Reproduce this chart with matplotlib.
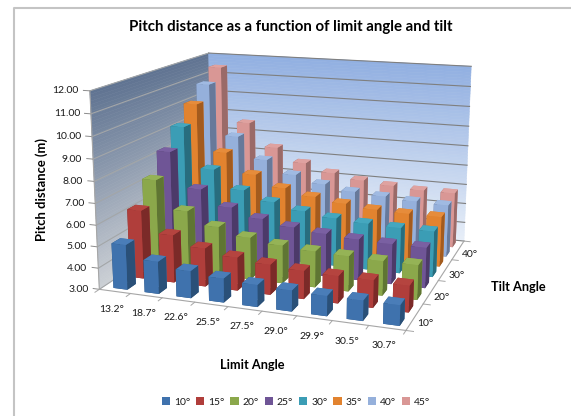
import numpy as np
import matplotlib
matplotlib.use('Agg')
import matplotlib.pyplot as plt
from matplotlib.lines import Line2D
from matplotlib.patches import Patch
from mpl_toolkits.mplot3d import proj3d
from mpl_toolkits.mplot3d.art3d import Poly3DCollection

plt.rcParams['font.family'] = ['Lato', 'DejaVu Sans']

limit_angles = ['13.2°', '18.7°', '22.6°', '25.5°', '27.5°', '29.0°', '29.9°', '30.5°', '30.7°']
tilt_names = ['10°', '15°', '20°', '25°', '30°', '35°', '40°', '45°']

tilt_10 = [5.1, 4.5, 4.25, 4.1, 4.0, 3.95, 3.9, 3.9, 3.9]
tilt_15 = [6.25, 5.25, 4.8, 4.55, 4.4, 4.3, 4.25, 4.25, 4.2]
tilt_20 = [7.3, 5.95, 5.35, 5.0, 4.8, 4.7, 4.65, 4.6, 4.6]
tilt_25 = [8.3, 6.6, 5.85, 5.45, 5.2, 5.05, 4.95, 4.9, 4.9]
tilt_30 = [9.2, 7.2, 6.3, 5.85, 5.55, 5.35, 5.25, 5.2, 5.2]
tilt_35 = [10.05, 7.7, 6.7, 6.15, 5.85, 5.65, 5.5, 5.45, 5.45]
tilt_40 = [10.8, 8.2, 7.1, 6.45, 6.1, 5.85, 5.75, 5.65, 5.6]
tilt_45 = [11.45, 8.6, 7.4, 6.7, 6.3, 6.05, 5.9, 5.8, 5.8]
series = [tilt_10, tilt_15, tilt_20, tilt_25, tilt_30, tilt_35, tilt_40, tilt_45]

z_ticks = [3, 4, 5, 6, 7, 8, 9, 10, 11, 12]

# front, top, side colours for each series
front = ['#3f72ad', '#b03e3b', '#8ba84b', '#6f5596', '#3b9db5', '#e2832f', '#95b0db', '#d99795']
top = ['#4a7db8', '#b5443f', '#95b356', '#7a60a2', '#45a7bf', '#e68c3b', '#a0bae2', '#dfa2a0']
side = ['#2a5078', '#7b2a28', '#5f7533', '#4c3a69', '#286d7e', '#a35b1e', '#67799a', '#9a6a68']

W, H = 571, 416
fig = plt.figure(figsize=(W/100, H/100), dpi=100)
S = 430.5
ax = fig.add_axes([72.7/W, 22.2/H, S/W, S/H], projection='3d')
ax.view_init(elev=14.29, azim=-70.41)
ax.set_proj_type('persp', focal_length=0.4568)
ax.set_box_aspect((1, 0.8835, 0.6398))
ax.computed_zorder = False
ax.set_axis_off()
ax.set_xticks([])
ax.set_yticks([])
ax.set_zticks([])


def wall(xa, ya, xb, yb, col_top, col_bot):
    zs = np.linspace(3, 12, 61)
    c0, c1 = np.array(col_bot), np.array(col_top)
    polys, cols = [], []
    for k in range(60):
        polys.append([(xa, ya, zs[k]), (xb, yb, zs[k]), (xb, yb, zs[k+1]), (xa, ya, zs[k+1])])
        cols.append((c0 + (c1-c0)*(k+0.5)/60)/255)
    ax.add_collection3d(Poly3DCollection(polys, facecolors=cols, edgecolors=cols, linewidths=0.4, zorder=1))


wall(0, 0, 0, 8, (95, 115, 145), (205, 209, 214))
wall(0, 8, 9, 8, (145, 175, 225), (232, 239, 248))

for z in z_ticks:
    ax.plot([0, 0], [0, 8], [z, z], color='#a3a6a8', lw=0.8, zorder=2)
    ax.plot([0, 9], [8, 8], [z, z], color='#7f7f7f', lw=0.8, zorder=2)
    ax.plot([-0.2, 0], [0, 0], [z, z], color='#8c8c8c', lw=0.7, zorder=2)

# floor edges
ax.plot([0, 9], [0, 0], [3, 3], color='#a6a6a6', lw=0.8, zorder=2)
ax.plot([9, 9], [0, 8], [3, 3], color='#a6a6a6', lw=0.8, zorder=2)
ax.plot([0, 0], [0, 0], [3, 12], color='#a6a6a6', lw=0.8, zorder=2)
for i in range(10):
    ax.plot([i, i], [-0.25, 0], [3, 3], color='#a6a6a6', lw=0.7, zorder=2)
for j in range(0, 9, 2):
    ax.plot([9, 9.2], [j, j], [3, 3], color='#a6a6a6', lw=0.7, zorder=2)

# back to front, left to right so the near bars cover the far ones
bar_w, bar_d = 0.45, 0.52
order = 3
for j in range(7, -1, -1):
    for i in range(9):
        cols = [side[j], top[j], front[j], front[j], side[j], side[j]]
        ax.bar3d(i+(1-bar_w)/2+0.05, j+(1-bar_d)/2, 3, bar_w, bar_d, series[j][i]-3,
                 color=cols, shade=False, linewidth=0.2, edgecolor=None, zorder=order)
        order += 1

ax.set_xlim(0, 9)
ax.set_ylim(0, 8)
ax.set_zlim(3, 12)

# tick labels sit a fixed pixel offset from the projected axis points
M = ax.get_proj()


def tick_label(x, y, z, text, dx, dy, ha):
    px, py, _ = proj3d.proj_transform(x, y, z, M)
    ax.annotate(text, (px, py), xytext=(dx*0.72, -dy*0.72), textcoords='offset points', ha=ha, va='center',
                fontsize=7.5, color='#1a1a1a', zorder=200, annotation_clip=False)


for z in z_ticks:
    tick_label(0, 0, z, '%.2f' % z, -11, 0, 'right')
for i, name in enumerate(limit_angles):
    tick_label(i+0.5, 0, 3, name, -3, 18, 'center')
for j in range(0, 8, 2):
    tick_label(9, j+0.5, 3, tilt_names[j], 15, 0, 'center')

fig.text(291/W, 1-27/H, 'Pitch distance as a function of limit angle and tilt',
         ha='center', va='center', fontsize=10.8, fontweight='bold')
fig.text(42/W, 1-189/H, 'Pitch distance (m)', rotation=90, ha='center', va='center',
         fontsize=9.4, fontweight='bold')
fig.text(252/W, 1-365/H, 'Limit Angle', ha='center', va='center', fontsize=9.2, fontweight='bold')
fig.text(518/W, 1-287/H, 'Tilt Angle', ha='center', va='center', fontsize=9.2, fontweight='bold')

handles = [Patch(facecolor=c, edgecolor='none') for c in front]
fig.legend(handles, tilt_names, loc='center', bbox_to_anchor=(296/W, 1-402/H), ncol=8, frameon=False,
           fontsize=7.5, handlelength=0.8, handleheight=0.8, handletextpad=0.35, columnspacing=0.58,
           labelcolor='#1a1a1a')

# frame of the pasted chart, only left and top survive
fig.add_artist(Line2D([14/W, 14/W, 1], [0, 1-7.5/H, 1-7.5/H], color='#c4c4c4', lw=1.5))

plt.savefig('out.png', dpi=100)
